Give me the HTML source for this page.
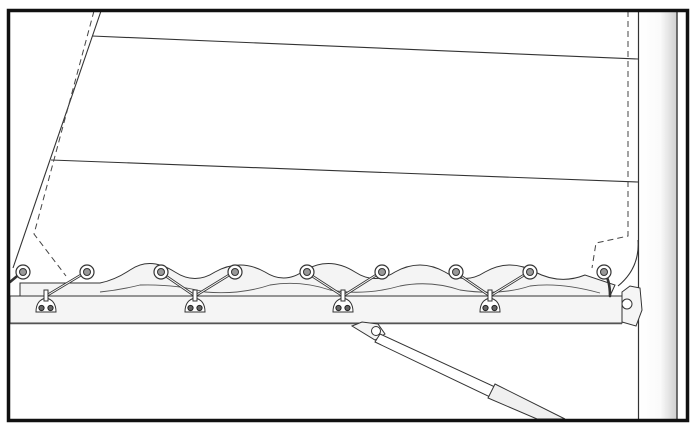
<!DOCTYPE html>
<html><head><style>html,body{margin:0;padding:0;background:#fff}svg{display:block}</style></head>
<body>
<svg width="694" height="428" viewBox="0 0 694 428" xmlns="http://www.w3.org/2000/svg">
<defs>
<linearGradient id="mg" x1="0" x2="1"><stop offset="0" stop-color="#fff"/><stop offset="0.55" stop-color="#fafafa"/><stop offset="0.8" stop-color="#e2e2e2"/><stop offset="1" stop-color="#cfcfcf"/></linearGradient>
<g id="hk">
<path d="M-10 312 Q-10 300 0 298 Q10 300 10 312 Z" fill="#fff" stroke="#333"/>
<rect x="-2" y="290" width="4" height="11" fill="#fff" stroke="#333"/>
<circle cx="-4.5" cy="308" r="2.6" fill="#666" stroke="#222"/>
<circle cx="4.5" cy="308" r="2.6" fill="#666" stroke="#222"/>
</g>
</defs>
<rect width="694" height="428" fill="#fff"/>
<!-- mast -->
<rect x="640" y="11" width="37" height="408" fill="url(#mg)"/>
<line x1="638.5" y1="11" x2="638.5" y2="419" stroke="#333" stroke-width="1.2"/>
<line x1="677" y1="11" x2="677" y2="419" stroke="#444" stroke-width="1.5"/>
<!-- sail -->
<g fill="none" stroke="#333" stroke-width="1.1">
<line x1="101" y1="11" x2="13" y2="268"/>
<line x1="92" y1="36" x2="638" y2="59"/>
<line x1="51" y1="160" x2="638" y2="182"/>
<path d="M638 240 Q640 268 618 286"/>
</g>
<g fill="none" stroke="#444" stroke-width="1" stroke-dasharray="6,4">
<path d="M94 11 L34 234 L66 276"/>
<path d="M628 11 L628 236 L596 243 L592 268"/>
</g>
<!-- wavy foot bolt rope -->
<path d="M20 283 L100 283 Q115 280 130 270 Q150 256 175 272 Q195 285 215 272 Q240 258 265 272 Q285 285 305 270 Q330 256 355 272 Q375 285 395 272 Q420 258 445 272 Q465 285 485 272 Q510 258 535 272 Q560 285 585 275 Q600 280 615 285 L610 296 L20 296 Z" fill="#f4f4f4" stroke="#333" stroke-width="1"/>
<path d="M100 292 Q120 290 140 285 Q175 284 205 292 Q240 295 270 285 Q300 280 330 290 Q365 296 400 286 Q430 280 460 290 Q500 296 530 286 Q560 282 600 293" fill="none" stroke="#555" stroke-width="0.9"/>
<!-- boom -->
<rect x="10" y="296" width="612" height="27" fill="#f5f5f5" stroke="#333" stroke-width="1"/>
<line x1="10" y1="323.5" x2="622" y2="323.5" stroke="#555" stroke-width="1.5"/>
<!-- gooseneck -->
<path d="M622 292 L630 286 L640 288 L642 310 L636 326 L622 322 Z" fill="#f5f5f5" stroke="#333" stroke-width="1"/>
<circle cx="627" cy="304" r="5" fill="#fff" stroke="#333"/>
<!-- vang -->
<path d="M352 326 L362 322 L378 324 L385 334 L375 340 Z" fill="#f5f5f5" stroke="#333"/>
<circle cx="376" cy="331" r="4.5" fill="#fff" stroke="#333"/>
<path d="M380 334 L495 387 L490 397 L375 342 Z" fill="#fff" stroke="#333"/>
<path d="M495 384 L565 419 L537 419 L488 398 Z" fill="#f0f0f0" stroke="#333"/>
<!-- lacing lines -->
<g stroke="#333" stroke-width="2.6" stroke-linecap="round">
<line x1="10" y1="282" x2="22" y2="272"/>
<line x1="46" y1="296" x2="86" y2="272"/>
<line x1="160" y1="272" x2="195" y2="296"/>
<line x1="234" y1="272" x2="195" y2="296"/>
<line x1="306" y1="272" x2="343" y2="296"/>
<line x1="381" y1="272" x2="343" y2="296"/>
<line x1="455" y1="272" x2="490" y2="296"/>
<line x1="529" y1="272" x2="490" y2="296"/>
<path d="M604 272 Q610 280 610 296" fill="none"/>
</g>
<g stroke="#fff" stroke-width="1" stroke-linecap="round">
<line x1="46" y1="296" x2="86" y2="272"/>
<line x1="160" y1="272" x2="195" y2="296"/>
<line x1="234" y1="272" x2="195" y2="296"/>
<line x1="306" y1="272" x2="343" y2="296"/>
<line x1="381" y1="272" x2="343" y2="296"/>
<line x1="455" y1="272" x2="490" y2="296"/>
<line x1="529" y1="272" x2="490" y2="296"/>
</g>
<!-- grommets -->
<g fill="#fff" stroke="#333" stroke-width="1.2">
<circle cx="23" cy="272" r="7"/><circle cx="87" cy="272" r="7"/><circle cx="161" cy="272" r="7"/><circle cx="235" cy="272" r="7"/><circle cx="307" cy="272" r="7"/><circle cx="382" cy="272" r="7"/><circle cx="456" cy="272" r="7"/><circle cx="530" cy="272" r="7"/><circle cx="604" cy="272" r="7"/>
</g>
<g fill="#999" stroke="#333" stroke-width="1">
<circle cx="23" cy="272" r="3.5"/><circle cx="87" cy="272" r="3.5"/><circle cx="161" cy="272" r="3.5"/><circle cx="235" cy="272" r="3.5"/><circle cx="307" cy="272" r="3.5"/><circle cx="382" cy="272" r="3.5"/><circle cx="456" cy="272" r="3.5"/><circle cx="530" cy="272" r="3.5"/><circle cx="604" cy="272" r="3.5"/>
</g>
<!-- hooks -->
<use href="#hk" x="46"/>
<use href="#hk" x="195"/>
<use href="#hk" x="343"/>
<use href="#hk" x="490"/>
<!-- frame -->
<rect x="8.5" y="10.5" width="679" height="410" fill="none" stroke="#111" stroke-width="3.5"/>
</svg>
</body></html>
